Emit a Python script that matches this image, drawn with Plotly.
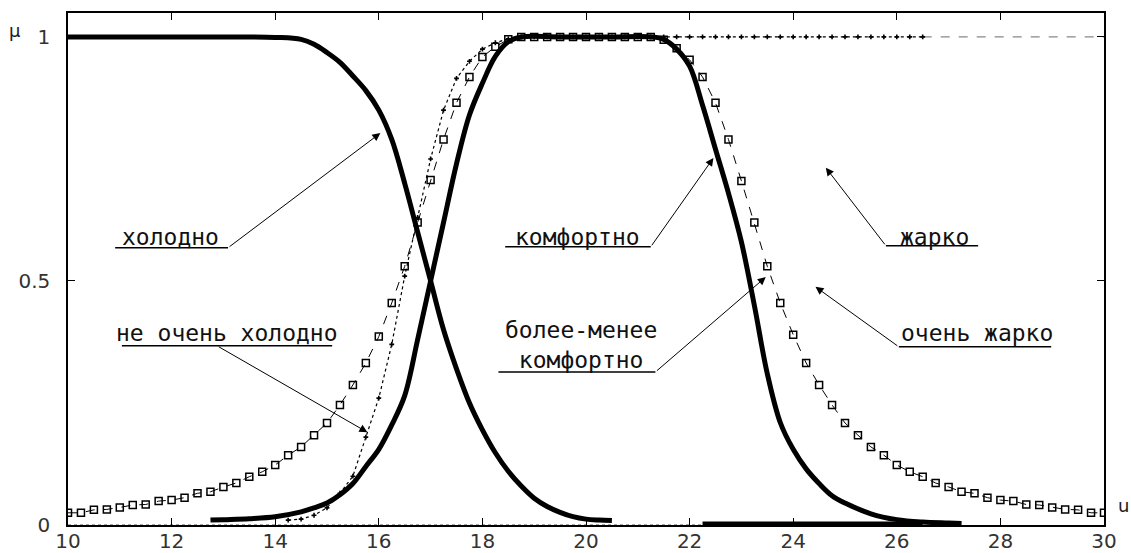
import plotly.graph_objects as go

# ---------------- data ----------------
# "более-менее комфортно" (markers every 0.25)
mlc_x = [10 + 0.25 * i for i in range(81)]
mlc_y = [0.025, 0.025, 0.031, 0.032, 0.036, 0.041, 0.042, 0.049, 0.051, 0.056,
         0.065, 0.068, 0.078, 0.086, 0.099, 0.109, 0.123, 0.143, 0.160, 0.184,
         0.209, 0.246, 0.287, 0.332, 0.386, 0.455, 0.530, 0.620, 0.707, 0.790,
         0.865, 0.918, 0.959, 0.980, 0.995, 1.0, 1.0, 1.0, 1.0, 1.0,
         1.0, 1.0, 1.0, 1.0, 1.0, 1.0, 0.994, 0.977, 0.953, 0.918,
         0.865, 0.790, 0.705, 0.620, 0.530, 0.455, 0.390, 0.332, 0.287, 0.246,
         0.209, 0.184, 0.160, 0.143, 0.123, 0.109, 0.099, 0.086, 0.078, 0.068,
         0.065, 0.056, 0.051, 0.049, 0.042, 0.041, 0.036, 0.032, 0.031, 0.025,
         0.025]

# "холодно" (thick)
cold_x = [10, 11, 12, 13, 14, 14.5, 14.75, 15.0, 15.25, 15.5, 15.75, 16.0, 16.25,
          16.5, 16.75, 17.0, 17.25, 17.5, 17.75, 18.0, 18.25, 18.5, 18.75, 19.0,
          19.25, 19.5, 19.75, 20.0, 20.25, 20.5]
cold_y = [1.0, 1.0, 1.0, 1.0, 0.999, 0.995, 0.985, 0.968, 0.948, 0.92, 0.89, 0.85,
          0.79, 0.70, 0.60, 0.50, 0.40, 0.32, 0.25, 0.195, 0.148, 0.11, 0.08,
          0.055, 0.038, 0.026, 0.017, 0.012, 0.01, 0.009]

# "комфортно" (thick)
comf_x = [12.75, 13.0, 13.5, 14.0, 14.5, 14.75, 15.0, 15.25, 15.5, 15.75, 16.0,
          16.25, 16.5, 16.75, 17.0, 17.25, 17.5, 17.75, 18.0, 18.25, 18.5, 18.75,
          19.5, 20.5, 21.25, 21.5, 21.75, 22.0, 22.25, 22.5, 22.75, 23.0, 23.25,
          23.5, 23.75, 24.0, 24.25, 24.5, 24.75, 25.0, 25.5, 26.0, 26.5, 27.0, 27.25]
comf_y = [0.01, 0.011, 0.013, 0.017, 0.027, 0.035, 0.045, 0.062, 0.085, 0.12, 0.155,
          0.205, 0.265, 0.38, 0.50, 0.62, 0.74, 0.84, 0.905, 0.96, 0.99, 1.0,
          1.0, 1.0, 1.0, 0.995, 0.975, 0.94, 0.86, 0.77, 0.68, 0.58, 0.45,
          0.31, 0.21, 0.155, 0.115, 0.085, 0.06, 0.045, 0.023, 0.011, 0.006, 0.004, 0.003]

# "не очень холодно" (dotted with small markers)
nvc_x = [14.25, 14.5, 14.75, 15.0, 15.25, 15.5, 15.75, 16.0, 16.25, 16.5, 16.75,
         17.0, 17.25, 17.5, 17.75, 18.0, 18.25, 18.5, 18.75, 19.0, 19.25, 19.5,
         19.75, 20.0, 20.25, 20.5, 20.75, 21.0, 21.25, 21.5, 21.75, 22.0, 22.25,
         22.5, 22.75, 23.0, 23.25, 23.5, 23.75, 24.0, 24.25, 24.5, 24.75, 25.0,
         25.25, 25.5, 25.75, 26.0, 26.25, 26.5]
nvc_y = [0.01, 0.012, 0.02, 0.035, 0.065, 0.10, 0.18, 0.26, 0.37, 0.51, 0.63,
         0.75, 0.85, 0.915, 0.95, 0.975, 0.988, 0.996, 1.0, 1.0, 1.0, 1.0,
         1.0, 1.0, 1.0, 1.0, 1.0, 1.0, 1.0, 1.0, 1.0, 1.0, 1.0,
         1.0, 1.0, 1.0, 1.0, 1.0, 1.0, 1.0, 1.0, 1.0, 1.0, 1.0,
         1.0, 1.0, 1.0, 1.0, 1.0, 1.0]

top_tail_x = [26.5, 30]
top_tail_y = [1.0, 1.0]
zero_dot_x = [10, 22.25]
zero_dot_y = [0.0, 0.0]
zero_thick_x = [22.25, 26.5]
zero_thick_y = [0.002, 0.002]

x_ticks = [10, 12, 14, 16, 18, 20, 22, 24, 26, 28, 30]
y_ticks = [0, 0.5, 1]
y_tick_text = ["0", "0.5", "1"]

# labels: (text, text_x, text_y, underline x0, x1, y, arrow tail x, y, head x, y)
labels = [
    ("холодно", 11.97, 0.590, 10.91, 13.09, 0.568, 13.09, 0.568, 16.03, 0.803),
    ("не очень холодно", 13.06, 0.393, 11.04, 15.10, 0.367, 12.88, 0.367, 15.78, 0.190),
    ("комфортно", 19.84, 0.590, 18.44, 21.25, 0.570, 21.25, 0.570, 22.46, 0.752),
    ("более-менее<br>комфортно", 19.91, 0.368, 18.31, 21.34, 0.3135, 21.34, 0.3135, 23.47, 0.508),
    ("жарко", 26.72, 0.590, 25.79, 27.57, 0.572, 25.79, 0.572, 24.63, 0.732),
    ("очень жарко", 27.54, 0.393, 26.04, 28.98, 0.365, 26.04, 0.365, 24.43, 0.488),
]

# ---------------- figure ----------------
W, H = 1131, 553
L, R, T, B = 68, 27, 13, 28
pw, ph = W - L - R, H - T - B

fig = go.Figure()

fig.add_trace(go.Scatter(x=zero_dot_x, y=zero_dot_y, mode="lines",
                         line=dict(color="#555", width=1.2, dash="dot"), showlegend=False))
fig.add_trace(go.Scatter(x=top_tail_x, y=top_tail_y, mode="lines",
                         line=dict(color="#888", width=1.2, dash="dash"), showlegend=False))
fig.add_trace(go.Scatter(x=nvc_x, y=nvc_y, mode="lines+markers",
                         line=dict(color="black", width=1.2, dash="dot"),
                         marker=dict(symbol="cross", size=4, color="black"),
                         showlegend=False))
fig.add_trace(go.Scatter(x=mlc_x, y=mlc_y, mode="lines+markers",
                         line=dict(color="black", width=1, dash="dash"),
                         marker=dict(symbol="square-open", size=7, color="black",
                                     line=dict(width=1.5, color="black")),
                         showlegend=False))
fig.add_trace(go.Scatter(x=zero_thick_x, y=zero_thick_y, mode="lines",
                         line=dict(color="black", width=5), showlegend=False))
fig.add_trace(go.Scatter(x=cold_x, y=cold_y, mode="lines", line_shape="spline",
                         line=dict(color="black", width=5), showlegend=False))
fig.add_trace(go.Scatter(x=comf_x, y=comf_y, mode="lines", line_shape="spline",
                         line=dict(color="black", width=5), showlegend=False))

label_font = dict(family="DejaVu Sans Mono", size=23, color="#111")
for (txt, tx, ty, ux0, ux1, uy, ax_, ay_, hx, hy) in labels:
    fig.add_annotation(x=tx, y=ty, text=txt, showarrow=False, font=label_font,
                       xref="x", yref="y", xanchor="center", yanchor="middle")
    fig.add_shape(type="line", x0=ux0, x1=ux1, y0=uy, y1=uy, xref="x", yref="y",
                  line=dict(color="black", width=1.5))
    fig.add_annotation(x=hx, y=hy, ax=ax_, ay=ay_, axref="x", ayref="y",
                       xref="x", yref="y", text="", showarrow=True,
                       arrowhead=2, arrowsize=1.6, arrowwidth=1, arrowcolor="black",
                       standoff=0, startstandoff=0)

fig.add_annotation(x=(15 - L) / pw, y=(H - B - 30) / ph, xref="paper", yref="paper",
                   text="μ", showarrow=False, xanchor="center", yanchor="middle",
                   font=dict(family="DejaVu Sans", size=18, color="#222"))
fig.add_annotation(x=(1123 - L) / pw, y=(H - B - 505) / ph, xref="paper", yref="paper",
                   text="u", showarrow=False, xanchor="center", yanchor="middle",
                   font=dict(family="DejaVu Sans", size=18, color="#222"))

axis_common = dict(showline=True, linecolor="black", linewidth=1.5, mirror="ticks",
                   ticks="inside", ticklen=7, tickcolor="black", tickwidth=1.2,
                   showgrid=False, zeroline=False, automargin=False)

fig.update_xaxes(range=[10, 30], tickvals=x_ticks, ticklabelstandoff=-3,
                 tickfont=dict(family="DejaVu Sans", size=20, color="#333"), **axis_common)
fig.update_yaxes(range=[0, 1.049], tickvals=y_ticks, ticktext=y_tick_text,
                 ticklabelstandoff=12,
                 tickfont=dict(family="DejaVu Sans", size=20, color="#333"), **axis_common)

fig.update_layout(width=W, height=H, margin=dict(l=L, r=R, t=T, b=B, autoexpand=False),
                  paper_bgcolor="white", plot_bgcolor="white")

fig.write_html("out.html", config={"displayModeBar": False},
               post_script="document.body.style.margin='0';document.body.style.overflow='hidden';")
